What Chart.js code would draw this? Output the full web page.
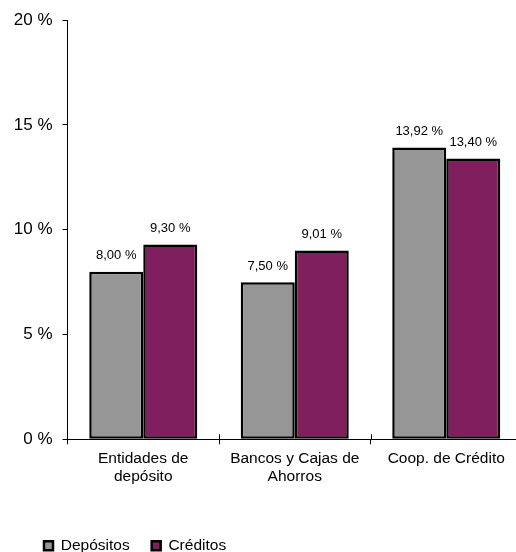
<!DOCTYPE html>
<html>
<head>
<meta charset="utf-8">
<script src="https://cdn.jsdelivr.net/npm/chart.js@4/dist/chart.umd.min.js"></script>
<style>
html,body{margin:0;padding:0;background:#fff;overflow:hidden;}
#wrap{width:516px;height:552px;position:relative;overflow:hidden;}
</style>
</head>
<body>
<div id="wrap"><canvas id="c" width="530" height="552"></canvas></div>
<script>
const categories = [['Entidades de','depósito'], ['Bancos y Cajas de','Ahorros'], ['Coop. de Crédito']];
const seriesNames = ['Depósitos', 'Créditos'];
const depositos = [8.00, 7.50, 13.92];
const creditos = [9.30, 9.01, 13.40];
const yTicks = [0, 5, 10, 15, 20];

const FONT = '"Liberation Sans", Arial, sans-serif';
Chart.defaults.color = '#000';
Chart.defaults.font.family = FONT;

const fmt = v => v.toFixed(2).replace('.', ',') + ' %';

const valueLabels = {
  id: 'valueLabels',
  afterDatasetsDraw(chart) {
    const ctx = chart.ctx;
    ctx.save();
    ctx.font = '13px ' + FONT;
    ctx.fillStyle = '#000';
    ctx.textAlign = 'center';
    ctx.textBaseline = 'middle';
    chart.data.datasets.forEach((ds, di) => {
      const meta = chart.getDatasetMeta(di);
      meta.data.forEach((bar, i) => {
        ctx.fillText(fmt(ds.data[i]), bar.x, bar.y - 16);
      });
    });
    ctx.restore();
  }
};

const innerTicks = {
  id: 'innerTicks',
  afterDraw(chart) {
    const xs = chart.scales.x;
    const ctx = chart.ctx;
    ctx.save();
    ctx.strokeStyle = '#000';
    ctx.lineWidth = 1;
    for (let i = 1; i < categories.length; i++) {
      const px = Math.round((xs.getPixelForValue(i - 1) + xs.getPixelForValue(i)) / 2) + 0.5;
      ctx.beginPath();
      ctx.moveTo(px, xs.top - 5);
      ctx.lineTo(px, xs.top);
      ctx.stroke();
    }
    ctx.restore();
  }
};

const legendPlace = {
  id: 'legendPlace',
  afterLayout(chart) {
    const lg = chart.legend;
    const w = lg.right - lg.left;
    lg.left = 22; lg.right = 22 + w;
    lg.top += 11.5; lg.bottom += 11.5;
  }
};

new Chart(document.getElementById('c'), {
  type: 'bar',
  data: {
    labels: categories,
    datasets: [
      { label: seriesNames[0], data: depositos, backgroundColor: '#969696', borderColor: '#000', borderWidth: 2.5, borderSkipped: false },
      { label: seriesNames[1], data: creditos, backgroundColor: '#7f1f5e', borderColor: '#000', borderWidth: 2.5, borderSkipped: false }
    ]
  },
  options: {
    responsive: false,
    animation: false,
    devicePixelRatio: 1,
    layout: { padding: { top: 20, left: 0, right: 8, bottom: 0 } },
    datasets: { bar: { categoryPercentage: 0.713, barPercentage: 1 } },
    plugins: {
      tooltip: { enabled: false },
      legend: {
        position: 'bottom',
        align: 'start',
        labels: {
          boxWidth: 9, boxHeight: 9, padding: 22,
          font: { size: 15.5, family: FONT }, color: '#000'
        }
      }
    },
    scales: {
      x: {
        offset: true,
        grid: { display: true, drawOnChartArea: false, drawTicks: true, tickLength: 5, color: '#000', offset: true },
        border: { display: true, color: '#000', width: 1 },
        ticks: { padding: 5, font: { size: 15.5, family: FONT, lineHeight: 1.16 }, color: '#000', maxRotation: 0, autoSkip: false },
        afterFit(s) { s.height = 552 - 439.3 - s.chart.legend.height; }
      },
      y: {
        min: 0, max: 20,
        afterBuildTicks(s) { s.ticks = yTicks.map(v => ({ value: v })); },
        grid: { display: true, drawOnChartArea: false, drawTicks: true, tickLength: 5, color: '#000' },
        border: { display: true, color: '#000', width: 1 },
        ticks: { padding: 10, font: { size: 17, family: FONT }, color: '#000', callback: v => v + ' %' },
        afterFit(s) { s.width = 67.5; }
      }
    }
  },
  plugins: [valueLabels, innerTicks, legendPlace]
});
</script>
</body>
</html>
